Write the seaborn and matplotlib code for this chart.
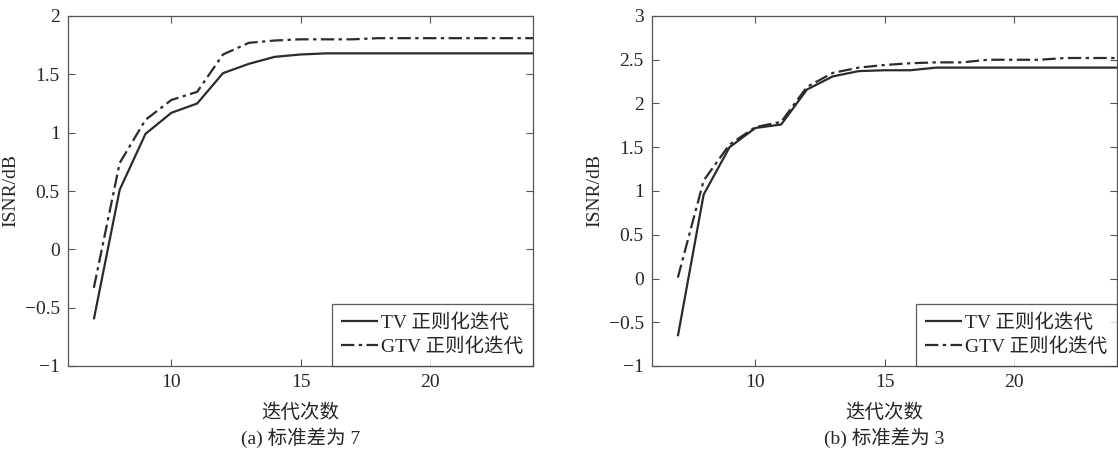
import numpy as np
import pandas as pd
import seaborn as sns
import matplotlib.pyplot as plt

# --- dados ---
iteracoes = list(range(7, 25))

tv_a = [-0.60, 0.51, 0.99, 1.17, 1.25, 1.51, 1.59, 1.65, 1.67, 1.68,
        1.68, 1.68, 1.68, 1.68, 1.68, 1.68, 1.68, 1.68]
gtv_a = [-0.33, 0.74, 1.11, 1.28, 1.35, 1.67, 1.77, 1.79, 1.80, 1.80,
         1.80, 1.81, 1.81, 1.81, 1.81, 1.81, 1.81, 1.81]

tv_b = [-0.66, 0.96, 1.50, 1.72, 1.76, 2.16, 2.31, 2.37, 2.38, 2.38,
        2.41, 2.41, 2.41, 2.41, 2.41, 2.41, 2.41, 2.41]
gtv_b = [0.01, 1.12, 1.53, 1.73, 1.79, 2.19, 2.35, 2.41, 2.44, 2.46,
         2.47, 2.47, 2.50, 2.50, 2.50, 2.52, 2.52, 2.52]

series_nomes = ['TV 正则化迭代', 'GTV 正则化迭代']
legendas = ['(a) 标准差为 7', '(b) 标准差为 3']
ylims = [(-1, 2), (-1, 3)]
yticks = [[-1, -0.5, 0, 0.5, 1, 1.5, 2],
          [-1, -0.5, 0, 0.5, 1, 1.5, 2, 2.5, 3]]
xticks = [10, 15, 20]

sns.set_style('ticks')
plt.rcParams['font.family'] = ['Liberation Serif', 'Noto Sans CJK SC']
plt.rcParams['axes.unicode_minus'] = True


def montar_df(tv, gtv):
    df = pd.DataFrame({'iter': iteracoes * 2,
                       'isnr': tv + gtv,
                       'metodo': [series_nomes[0]] * len(tv) + [series_nomes[1]] * len(gtv)})
    return df


fig = plt.figure(figsize=(11.18, 4.49), dpi=100)
ax1 = fig.add_axes([68 / 1118, 1 - 366 / 449, 465 / 1118, 350 / 449])
ax2 = fig.add_axes([652 / 1118, 1 - 366 / 449, 465 / 1118, 350 / 449])

dados = [montar_df(tv_a, gtv_a), montar_df(tv_b, gtv_b)]
cor = '#2b2b2b'

for i, ax in enumerate([ax1, ax2]):
    sns.lineplot(data=dados[i], x='iter', y='isnr', hue='metodo', style='metodo',
                 palette=[cor, cor], dashes=[(1, 0), (6, 2, 1.5, 2)],
                 linewidth=1.6, ax=ax, legend=False)
    ax.set_xlim(6, 24)
    ax.set_ylim(*ylims[i])
    ax.set_xticks(xticks)
    ax.set_yticks(yticks[i])
    ax.set_yticklabels([f'{v:g}'.replace('-', '−') for v in yticks[i]])
    ax.tick_params(direction='in', top=True, right=True, length=5,
                   width=0.8, labelsize=14, color='#555555', pad=6)
    for s in ax.spines.values():
        s.set_color('#555555')
        s.set_linewidth(0.9)
    ax.set_xlabel('迭代次数', fontsize=14, labelpad=9)
    ax.set_ylabel('ISNR/dB', fontsize=14, labelpad=4)
    ax.text(0.5, -0.175, legendas[i], transform=ax.transAxes,
            ha='center', va='top', fontsize=14)
    linhas = ax.get_lines()[:2]
    leg = ax.legend(linhas, series_nomes, loc='lower right', fontsize=14,
                    frameon=True, fancybox=False, borderaxespad=0,
                    handlelength=1.9, handletextpad=0.15, labelspacing=0.3,
                    borderpad=0.5)
    leg.get_frame().set_edgecolor('#333333')
    leg.get_frame().set_linewidth(0.9)

fig.savefig('out.png', dpi=100, facecolor='white')
